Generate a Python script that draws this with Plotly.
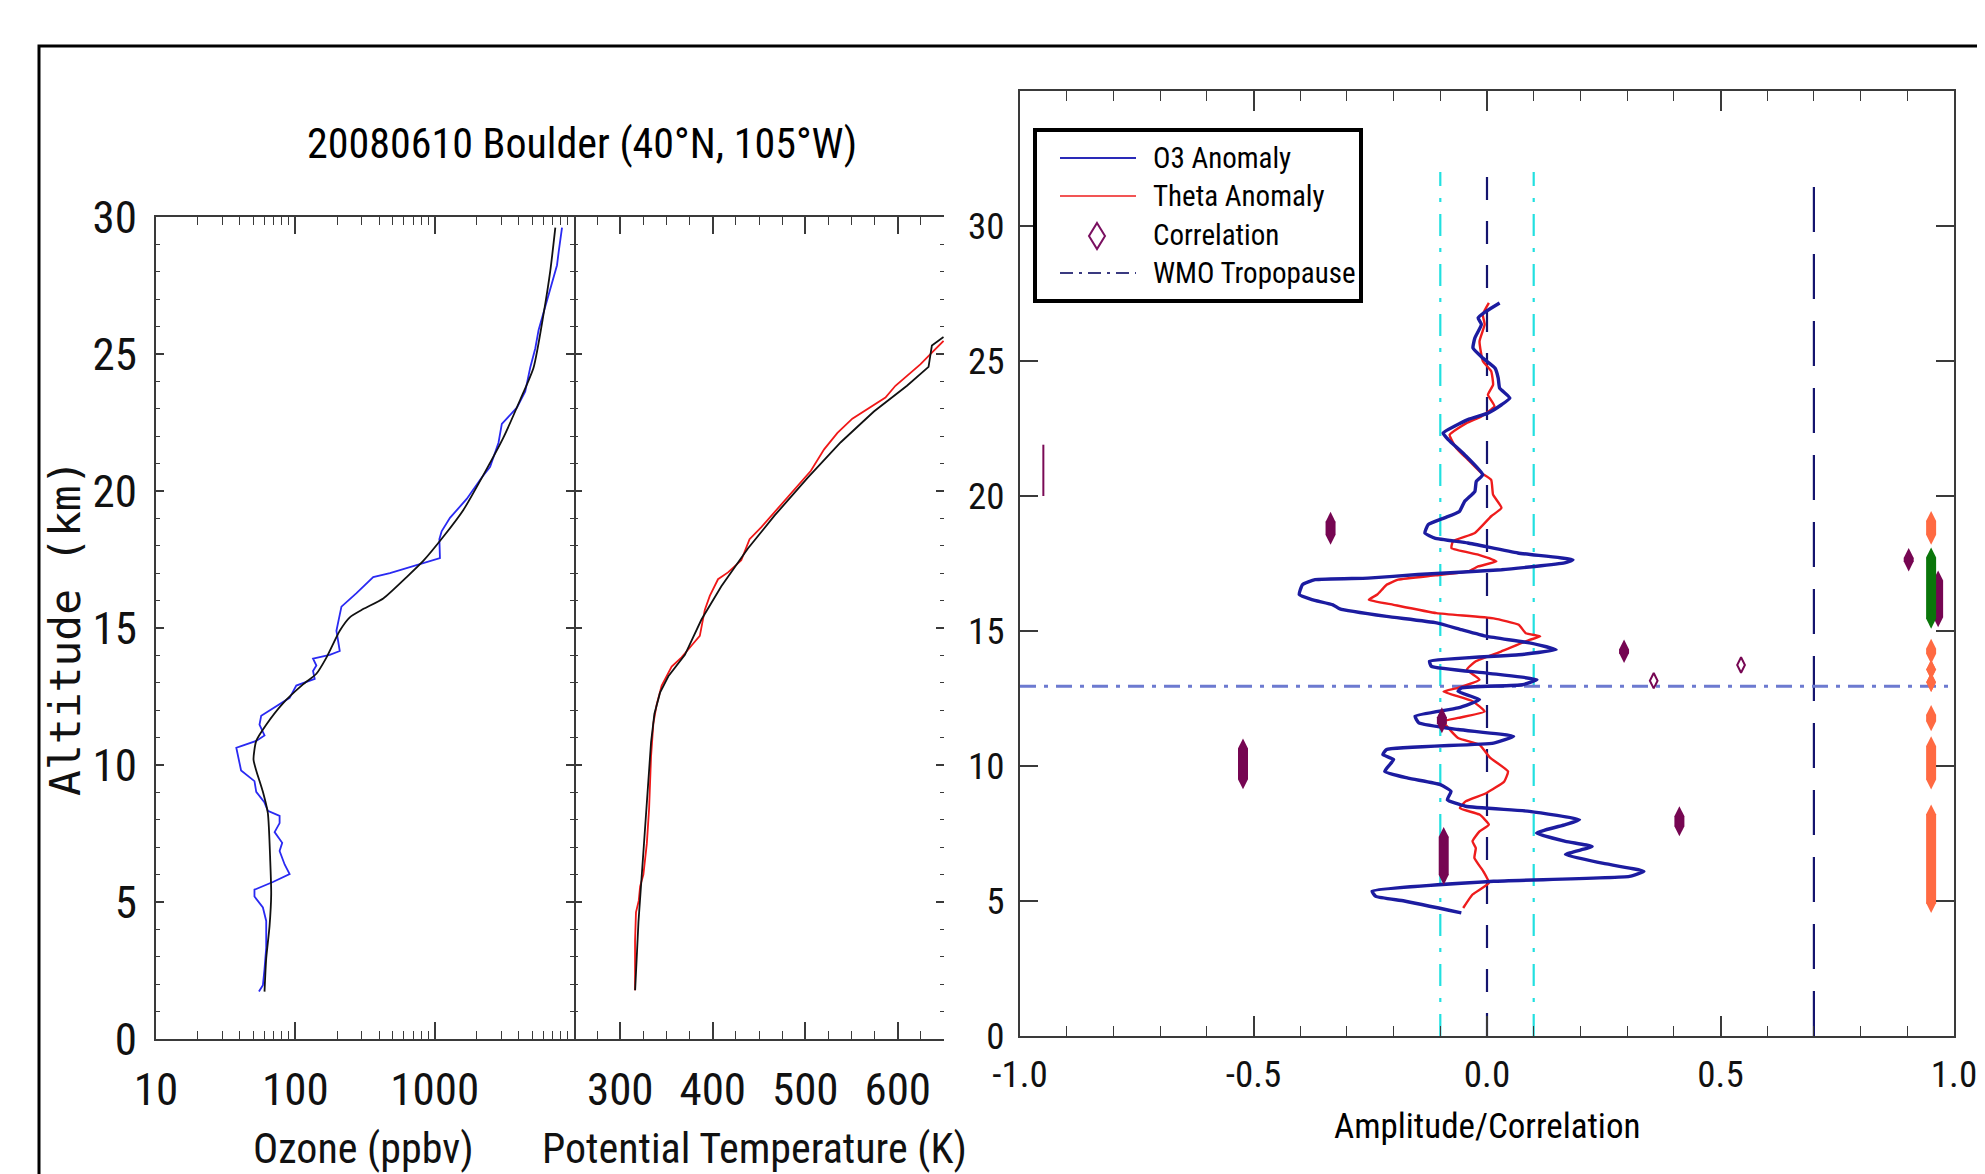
import plotly.graph_objects as go

W, H = 1985, 1174
NARROW = "Liberation Sans Narrow, Arial Narrow, Roboto Condensed, sans-serif"

# ---------------- Left panel: ozone profile (ppbv vs km) ----------------
o3_obs_alt = [1.73, 1.96, 2.55, 3.33, 4.31, 4.80, 5.20, 5.45, 5.73, 6.02, 6.37, 6.86, 7.16, 7.55,
              7.88, 8.14, 8.33, 8.63, 9.02, 9.41, 9.80, 10.39, 10.63, 10.69, 10.88, 11.08, 11.47,
              11.80, 12.06, 12.45, 12.90, 12.98, 13.14, 13.43, 13.63, 13.88, 14.02, 14.16, 14.51,
              14.90, 15.49, 15.78, 16.27, 16.86, 17.00, 17.29, 17.55, 18.24, 18.53, 19.02, 19.71,
              20.49, 20.88, 21.76, 22.45, 23.04, 23.63, 24.51, 25.20, 25.88, 26.76, 27.35, 28.24,
              28.73, 29.22, 29.61]
o3_obs = [54.8, 58.5, 60.1, 61.8, 61.8, 58.5, 50.9, 50.9, 69.0, 91.0, 83.8, 77.1, 80.5, 71.0,
          77.1, 77.1, 63.5, 60.1, 52.4, 50.9, 40.8, 38.7, 37.7, 40.8, 52.4, 60.1, 55.3,
          56.9, 69.0, 91.0, 101.6, 113.5, 137.7, 134.0, 141.6, 134.0, 176.6, 208.4, 202.8,
          197.2, 208.4, 214.3, 274.8, 362.2, 477.5, 743.0, 1091, 1081, 1122, 1288, 1698,
          2178, 2500, 2871, 3034, 3890, 4467, 4853, 5272, 5572, 6223, 6761, 7551,
          7762, 7980, 8204]
o3_bg_alt = [1.73, 2.94, 4.12, 5.29, 6.47, 8.24, 9.02, 9.80, 10.20, 10.88, 11.47, 12.25, 12.94,
             13.33, 13.92, 14.90, 15.39, 15.69, 16.08, 16.86, 17.45, 18.33, 19.31, 20.59, 21.96,
             23.33, 24.51, 26.47, 28.04, 29.61]
o3_bg = [60.1, 61.8, 65.3, 67.1, 66.1, 63.5, 58.5, 52.4, 50.1, 52.4, 61.8, 81.5, 113.5,
         141.6, 167.1, 208.4, 246.0, 306.9, 427.6, 629.5, 827.9, 1153, 1607, 2239, 3119,
         4111, 5129, 6053, 6761, 7345]

# ---------------- Middle panel: potential temperature (K vs km) ----------------
th_obs_alt = [1.78, 3.59, 4.62, 5.05, 5.57, 6.00, 7.12, 8.41, 10.31, 11.52, 12.21, 12.90, 13.59,
              13.93, 14.36, 14.71, 15.66, 16.17, 16.78, 17.03, 17.47, 18.24, 18.67, 19.36, 20.05,
              20.74, 21.52, 22.12, 22.64, 22.98, 23.41, 23.84, 24.19, 24.62, 25.05, 25.48]
th_obs = [316, 316, 317, 320, 321.5, 325, 328.7, 331.2, 333.3, 335.8, 339.4, 344.8, 355.6,
          366.3, 377.1, 386, 391.4, 396.8, 405.7, 416.5, 430.8, 439.8, 452.3, 470.3, 488.2,
          506.1, 520.4, 534.8, 550.9, 567, 586.7, 597.5, 610, 624.4, 636.9, 649.5]
th_bg_alt = [1.78, 4.28, 6.86, 9.45, 10.83, 11.86, 12.64, 13.24, 14.02, 15.31, 16.52, 17.90,
             19.10, 20.48, 21.78, 22.90, 23.84, 24.53, 25.31, 25.62]
th_bg = [316.1, 319.7, 325.1, 330.5, 333.3, 336.9, 343.0, 352.0, 369.9, 387.8, 409.3, 438.0,
         466.7, 502.5, 538.4, 574.2, 610.0, 633.3, 636.9, 649.5]

# ---------------- Right panel: anomalies / correlation ----------------
o3a_alt = [27.15, 26.84, 26.60, 26.35, 25.85, 25.48, 25.11, 24.74, 24.37, 24.00, 23.63, 23.38,
           23.07, 22.83, 22.33, 22.09, 21.53, 20.79, 20.54, 20.17, 19.80, 19.43, 19.19, 18.94,
           18.63, 18.44, 18.26, 17.89, 17.64, 17.52, 17.27, 17.09, 16.96, 16.90, 16.72, 16.35,
           16.16, 15.97, 15.82, 15.54, 15.30, 15.05, 14.80, 14.56, 14.31, 14.12, 13.88, 13.69,
           13.44, 13.20, 13.01, 12.89, 12.76, 12.46, 12.15, 11.84, 11.60, 11.35, 11.10, 10.85,
           10.61, 10.42, 10.24, 9.80, 9.55, 9.31, 9.06, 8.75, 8.51, 8.32, 8.01, 7.83, 7.52,
           7.21, 7.02, 6.72, 6.41, 6.10, 5.91, 5.73, 5.36, 5.17, 5.00, 4.56]
o3a = [0.027, -0.002, -0.019, -0.012, -0.026, -0.030, -0.009, 0.017, 0.024, 0.027, 0.049, 0.031,
       0.002, -0.041, -0.094, -0.083, -0.048, -0.009, -0.023, -0.026, -0.048, -0.059, -0.091, -0.126,
       -0.133, -0.112, -0.041, 0.066, 0.184, 0.166, 0.031, -0.148, -0.255, -0.368, -0.395, -0.402,
       -0.375, -0.330, -0.315, -0.215, -0.108, -0.055, 0.000, 0.091, 0.148, 0.068, -0.123, -0.119,
       0.000, 0.107, 0.076, -0.055, -0.062, -0.016, -0.062, -0.154, -0.146, -0.062, 0.057, 0.014,
       -0.215, -0.223, -0.200, -0.219, -0.169, -0.100, -0.077, -0.085, -0.046, 0.091, 0.198, 0.168, 0.106,
       0.168, 0.225, 0.168, 0.244, 0.336, 0.305, 0.014, -0.246, -0.238, -0.177, -0.055]

tha_alt = [27.15, 26.72, 26.35, 25.73, 25.00, 24.62, 24.12, 23.75, 23.32, 22.95, 22.70, 22.27,
           21.78, 21.35, 20.85, 20.60, 20.05, 19.56, 19.25, 18.63, 18.32, 18.07, 17.83, 17.58,
           17.39, 17.21, 17.06, 16.90, 16.71, 16.53, 16.35, 16.16, 15.97, 15.66, 15.47, 15.23,
           14.92, 14.80, 14.67, 14.24, 13.88, 13.57, 13.20, 12.89, 12.76, 12.40, 12.02, 11.78,
           11.65, 11.04, 10.79, 10.30, 9.80, 9.43, 9.00, 8.69, 8.44, 8.20, 7.83, 7.58, 7.21,
           6.96, 6.59, 6.10, 5.67, 5.24, 4.74]
tha = [0.004, -0.009, -0.005, -0.016, -0.009, 0.009, 0.013, 0.002, 0.016, -0.012, -0.044, -0.080,
       -0.066, -0.041, -0.012, 0.009, 0.013, 0.031, 0.009, -0.026, -0.073, -0.076, -0.019, 0.020,
       -0.019, -0.040, -0.110, -0.190, -0.215, -0.225, -0.235, -0.253, -0.200, -0.108, 0.014, 0.068,
       0.083, 0.114, 0.091, 0.030, -0.024, -0.043, -0.016, -0.062, -0.093, -0.031, -0.005, -0.062,
       -0.093, -0.062, -0.016, 0.007, 0.045, 0.037, -0.001, -0.046, -0.058, -0.016, 0.004, -0.016, -0.031,
       -0.024, -0.027, -0.008, 0.004, -0.031, -0.051]

# significant correlations (filled), spanning an altitude layer
corr_x = [-0.335, -0.5225, -0.0966, -0.0927, 0.2935, 0.412, 0.903]
corr_lo = [18.56, 9.50, 11.58, 5.96, 14.18, 7.76, 17.57]
corr_hi = [19.05, 10.66, 11.81, 7.38, 14.32, 8.15, 17.71]
# non-significant correlations (open)
corr_open_x = [0.357, 0.544]
corr_open_y = [13.16, 13.74]

# flag columns at the right edge
flag_or_x = [0.951, 0.951, 0.951, 0.951, 0.951, 0.951, 0.951]
flag_or_lo = [18.56, 14.15, 13.57, 13.10, 11.65, 9.49, 4.92]
flag_or_hi = [19.08, 14.35, 13.57, 13.10, 11.90, 10.74, 8.21]
flag_gr_x = [0.951]
flag_gr_lo = [15.45]
flag_gr_hi = [17.73]
flag_pu_x = [0.966]
flag_pu_lo = [15.50]
flag_pu_hi = [16.88]

ref_zero = [0.0]
ref_band = [-0.1, 0.1]
ref_thresh = [0.7]
ref_top = 32.0
tropopause_alt = 12.95
short_mark_x = -0.95
short_mark_alt = [20.0, 21.9]

fig = go.Figure()

# ---- left panels ----
fig.add_trace(go.Scatter(x=o3_obs, y=o3_obs_alt, mode="lines",
                         line=dict(color="#2a2af2", width=1.8), xaxis="x", yaxis="y"))
fig.add_trace(go.Scatter(x=o3_bg, y=o3_bg_alt, mode="lines",
                         line=dict(color="#111111", width=1.8, shape="spline", smoothing=0.6),
                         xaxis="x", yaxis="y"))
fig.add_trace(go.Scatter(x=th_obs, y=th_obs_alt, mode="lines",
                         line=dict(color="#f01818", width=1.8), xaxis="x2", yaxis="y2"))
fig.add_trace(go.Scatter(x=th_bg, y=th_bg_alt, mode="lines",
                         line=dict(color="#111111", width=1.8), xaxis="x2", yaxis="y2"))

# ---- right panel reference lines ----
for xv in ref_band:
    fig.add_trace(go.Scatter(x=[xv, xv], y=[0, ref_top], mode="lines",
                             line=dict(color="#22e0e0", width=2.2, dash="22px,12px,4px,12px"),
                             xaxis="x3", yaxis="y3"))
for xv in ref_zero:
    fig.add_trace(go.Scatter(x=[xv, xv], y=[0, ref_top], mode="lines",
                             line=dict(color="#14146e", width=2.2, dash="23px,21px"),
                             xaxis="x3", yaxis="y3"))
for xv in ref_thresh:
    fig.add_trace(go.Scatter(x=[xv, xv], y=[0, ref_top], mode="lines",
                             line=dict(color="#14146e", width=2.2, dash="45px,22px"),
                             xaxis="x3", yaxis="y3"))
fig.add_trace(go.Scatter(x=[-1, 1], y=[tropopause_alt, tropopause_alt], mode="lines",
                         line=dict(color="#6c7ad0", width=3, dash="16px,8px,4px,8px"),
                         xaxis="x3", yaxis="y3"))
fig.add_trace(go.Scatter(x=[short_mark_x, short_mark_x], y=short_mark_alt, mode="lines",
                         line=dict(color="#7a0a56", width=2), xaxis="x3", yaxis="y3"))

# ---- anomalies ----
fig.add_trace(go.Scatter(x=tha, y=tha_alt, mode="lines",
                         line=dict(color="#ee1c1c", width=2.4, shape="spline", smoothing=0.4),
                         xaxis="x3", yaxis="y3"))
fig.add_trace(go.Scatter(x=o3a, y=o3a_alt, mode="lines",
                         line=dict(color="#1c1ca0", width=3.4, shape="spline", smoothing=0.4),
                         xaxis="x3", yaxis="y3"))


def bars(xs, los, his, color, width=10, size=14):
    for xv, lo, hi in zip(xs, los, his):
        fig.add_trace(go.Scatter(x=[xv, xv], y=[lo, hi], mode="lines+markers",
                                 line=dict(color=color, width=width),
                                 marker=dict(symbol="diamond-tall", size=size, color=color,
                                             line=dict(width=0)),
                                 xaxis="x3", yaxis="y3"))


bars(flag_pu_x, flag_pu_lo, flag_pu_hi, "#760652")
bars(flag_or_x, flag_or_lo, flag_or_hi, "#ff6a42")
bars(flag_gr_x, flag_gr_lo, flag_gr_hi, "#0a760a")
bars(corr_x, corr_lo, corr_hi, "#760652")
fig.add_trace(go.Scatter(x=corr_open_x, y=corr_open_y, mode="markers",
                         marker=dict(symbol="diamond-tall-open", size=11, color="#760652",
                                     line=dict(width=2, color="#760652")),
                         xaxis="x3", yaxis="y3"))

AX = "#3a3a3a"
tickfont_l = dict(family=NARROW, size=45, color="#111")
tickfont_r = dict(family=NARROW, size=37, color="#111")

common = dict(showline=True, linecolor=AX, linewidth=2, mirror="ticks", ticks="inside",
              tickcolor=AX, tickwidth=1.5, showgrid=False, zeroline=False, automargin=False)

ly0, ly1 = 1 - 1031 / H, 1 - 209 / H

fig.update_layout(
    width=W, height=H, margin=dict(l=0, r=0, t=0, b=0),
    paper_bgcolor="white", plot_bgcolor="white", showlegend=False,
    xaxis=dict(domain=[148 / W, 566 / W], type="log", range=[1, 4], anchor="y",
               tickvals=[10, 100, 1000, 10000], ticktext=["10", "100", "1000", ""],
               ticklen=17, tickfont=tickfont_l, ticklabelstandoff=10,
               minor=dict(tickvals=[20, 30, 40, 50, 60, 70, 80, 90, 200, 300, 400, 500, 600, 700,
                                    800, 900, 2000, 3000, 4000, 5000, 6000, 7000, 8000, 9000],
                          ticks="inside", ticklen=8, tickcolor=AX, tickwidth=1.2),
               **common),
    yaxis=dict(domain=[ly0, ly1], range=[0, 30], anchor="x",
               tickvals=[0, 5, 10, 15, 20, 25, 30], ticklen=8, tickfont=tickfont_l,
               ticklabelstandoff=8,
               minor=dict(dtick=1, ticks="inside", ticklen=4, tickcolor=AX, tickwidth=1.2),
               **common),
    xaxis2=dict(domain=[566 / W, 936 / W], range=[250, 650], anchor="y2",
                tickvals=[300, 400, 500, 600], ticklen=17, tickfont=tickfont_l,
                ticklabelstandoff=10,
                minor=dict(dtick=25, tick0=250, ticks="inside", ticklen=8, tickcolor=AX,
                           tickwidth=1.2),
                **common),
    yaxis2=dict(domain=[ly0, ly1], range=[0, 30], anchor="x2", matches="y",
                tickvals=[0, 5, 10, 15, 20, 25, 30], ticklen=8, showticklabels=False,
                minor=dict(dtick=1, ticks="inside", ticklen=4, tickcolor=AX, tickwidth=1.2),
                **{**common, "showline": False}),
    xaxis3=dict(domain=[1012 / W, 1946 / W], range=[-1, 1], anchor="y3",
                tickvals=[-1, -0.5, 0, 0.5, 1], ticktext=["-1.0", "-0.5", "0.0", "0.5", "1.0"],
                ticklen=20, tickfont=tickfont_r, ticklabelstandoff=5,
                minor=dict(dtick=0.1, tick0=0, ticks="inside", ticklen=10, tickcolor=AX,
                           tickwidth=1.2),
                **common),
    yaxis3=dict(domain=[1 - 1028 / H, 1 - 83 / H], range=[0, 35], anchor="x3",
                tickvals=[0, 5, 10, 15, 20, 25, 30], ticklen=18, tickfont=tickfont_r,
                ticklabelstandoff=6, **common),
)


def px(x):
    return x / W


def py(y):
    return 1 - y / H


annotations = [
    dict(text="20080610 Boulder (40°N, 105°W)", x=px(574), y=py(136),
         font=dict(family=NARROW, size=42, color="#000")),
    dict(text="Altitude (km)", x=px(57), y=py(620), textangle=-90,
         font=dict(family="DejaVu Sans Mono", size=43, color="#111")),
    dict(text="Ozone (ppbv)", x=px(355), y=py(1140),
         font=dict(family=NARROW, size=42, color="#111")),
    dict(text="Potential Temperature (K)", x=px(746), y=py(1140),
         font=dict(family=NARROW, size=42, color="#111")),
    dict(text="Amplitude/Correlation", x=px(1479), y=py(1118),
         font=dict(family=NARROW, size=35, color="#000")),
]
leg_rows = [("O3 Anomaly", 150), ("Theta Anomaly", 188), ("Correlation", 227),
            ("WMO Tropopause", 265)]
for txt, yy in leg_rows:
    annotations.append(dict(text=txt, x=px(1143), y=py(yy), xanchor="left",
                            font=dict(family=NARROW, size=29, color="#000")))
for a in annotations:
    a.setdefault("xref", "paper")
    a.setdefault("yref", "paper")
    a.setdefault("showarrow", False)
    a.setdefault("xanchor", "center")
    a.setdefault("yanchor", "middle")
fig.update_layout(annotations=annotations)


def diamond_path(cx, cy, hw, hh):
    return (f"M {px(cx)} {py(cy - hh)} L {px(cx + hw)} {py(cy)} "
            f"L {px(cx)} {py(cy + hh)} L {px(cx - hw)} {py(cy)} Z")


shapes = [
    # outer frame
    dict(type="rect", xref="paper", yref="paper", x0=px(31), x1=1.02, y0=-0.02, y1=py(38),
         line=dict(color="#000", width=3), fillcolor="rgba(0,0,0,0)", layer="below"),
    # legend box
    dict(type="rect", xref="paper", yref="paper", x0=px(1027), x1=px(1353), y0=py(293),
         y1=py(122), line=dict(color="#000", width=4), fillcolor="white"),
    dict(type="line", xref="paper", yref="paper", x0=px(1052), x1=px(1128), y0=py(150),
         y1=py(150), line=dict(color="#2a2ab8", width=2.2)),
    dict(type="line", xref="paper", yref="paper", x0=px(1052), x1=px(1128), y0=py(188),
         y1=py(188), line=dict(color="#ee1c1c", width=1.6)),
    dict(type="path", xref="paper", yref="paper", path=diamond_path(1089, 228, 8, 13),
         line=dict(color="#7a1060", width=2), fillcolor="rgba(0,0,0,0)"),
    dict(type="line", xref="paper", yref="paper", x0=px(1052), x1=px(1128), y0=py(265),
         y1=py(265), line=dict(color="#3a3a80", width=2, dash="13px,6px,3px,6px")),
]
fig.update_layout(shapes=shapes)

fig.write_html("out.html")
